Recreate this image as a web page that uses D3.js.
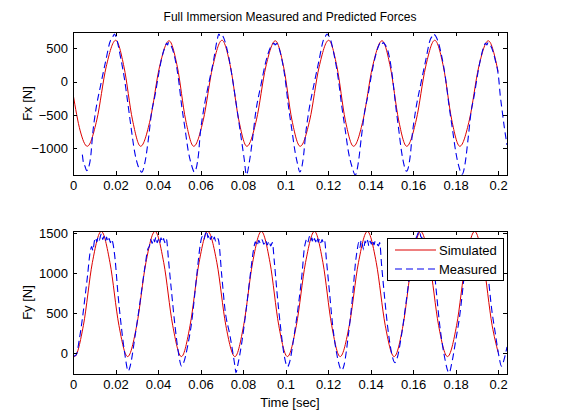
<!DOCTYPE html>
<html>
<head>
<meta charset="utf-8">
<script src="https://d3js.org/d3.v7.min.js"></script>
<style>
  body { margin: 0; background: #fff; }
  svg { display: block; }
  text { font-family: "Liberation Sans", Arial, sans-serif; fill: #000; }
</style>
</head>
<body>
<svg id="chart"></svg>
<script>
// values, [time in sec, force in N]
const fxSimulated = [
  [0,-180],[0.0034,-740],[0.0067,-970],
  [0.0112,-575],[0.0156,220],[0.0201,620],[0.0240,220],[0.0280,-575],[0.0318,-970],
  [0.0363,-575],[0.0407,220],[0.0452,612],[0.0491,220],[0.0530,-575],[0.0568,-970],
  [0.0613,-575],[0.0657,220],[0.0701,620],[0.0741,220],[0.0780,-575],[0.0818,-970],
  [0.0863,-575],[0.0907,220],[0.0952,612],[0.0991,220],[0.1030,-575],[0.1069,-970],
  [0.1114,-575],[0.1158,220],[0.1203,620],[0.1242,220],[0.1281,-575],[0.1320,-970],
  [0.1365,-575],[0.1409,220],[0.1454,612],[0.1493,220],[0.1532,-575],[0.1570,-970],
  [0.1615,-575],[0.1659,220],[0.1702,620],[0.1743,220],[0.1782,-575],[0.1820,-970],
  [0.1865,-575],[0.1909,220],[0.1954,612],[0.2000,150]
];

const fxMeasured = [
  [0.0044,-1095],[0.0050,-1230],[0.0056,-1265],[0.0064,-1335],[0.0072,-1300],
  [0.0084,-1105],[0.0092,-805],[0.0106,-455],[0.0130,-55],[0.0153,295],[0.0177,620],[0.0185,650],[0.0190,690],[0.0195,715],[0.0200,690],
  [0.0225,345],[0.0242,45],[0.0257,-300],[0.0274,-705],[0.0290,-1055],[0.0305,-1255],[0.0316,-1330],[0.0323,-1360],
  [0.0339,-1205],[0.0355,-855],[0.0370,-455],[0.0386,-205],[0.0402,95],[0.0417,345],[0.0433,520],[0.0441,575],[0.0445,550],[0.0449,585],[0.0455,570],
  [0.0480,345],[0.0496,45],[0.0511,-355],[0.0527,-705],[0.0543,-1055],[0.0558,-1255],[0.0571,-1355],
  [0.0590,-1105],[0.0598,-805],[0.0613,-455],[0.0637,-55],[0.0660,295],[0.0680,650],[0.0686,715],[0.0692,690],[0.0697,705],
  [0.0731,395],[0.0755,-55],[0.0778,-555],[0.0794,-905],[0.0805,-1150],[0.0816,-1400],
  [0.0830,-1200],[0.0843,-905],[0.0860,-455],[0.0884,-55],[0.0907,295],[0.0930,520],[0.0940,560],[0.0946,575],[0.0951,550],[0.0957,570],
  [0.0982,345],[0.0998,45],[0.1013,-355],[0.1029,-705],[0.1045,-1055],[0.1058,-1255],[0.1067,-1355],
  [0.1085,-1105],[0.1094,-805],[0.1109,-455],[0.1133,-55],[0.1156,295],[0.1180,640],[0.1188,680],[0.1195,715],[0.1200,700],[0.1205,680],
  [0.1232,345],[0.1248,45],[0.1264,-355],[0.1280,-705],[0.1296,-1055],[0.1313,-1280],[0.1328,-1400],
  [0.1343,-1205],[0.1356,-855],[0.1372,-455],[0.1388,-205],[0.1404,95],[0.1420,345],[0.1436,520],[0.1446,575],[0.1452,550],[0.1459,585],[0.1465,570],
  [0.1490,345],[0.1504,45],[0.1518,-355],[0.1532,-705],[0.1546,-1055],[0.1558,-1255],[0.1569,-1345],
  [0.1587,-1105],[0.1596,-805],[0.1611,-455],[0.1635,-55],[0.1658,295],[0.1682,640],[0.1690,680],[0.1697,715],[0.1702,700],[0.1707,680],
  [0.1737,345],[0.1753,45],[0.1769,-355],[0.1785,-705],[0.1801,-1055],[0.1816,-1280],[0.1831,-1390],
  [0.1846,-1205],[0.1859,-855],[0.1873,-455],[0.1888,-205],[0.1903,95],[0.1918,345],[0.1932,520],[0.1941,575],[0.1947,550],[0.1953,585],[0.1959,570],
  [0.1985,345],[0.2003,45],[0.2010,-200],[0.2019,-430],[0.2030,-700],[0.2042,-950]
];

const fySimulated = [
  [0,-25],[0.0007,-40],[0.0049,350],[0.0091,1130],[0.0133,1520],[0.0174,1130],[0.0216,350],[0.0257,-40],
  [0.0300,350],[0.0343,1130],[0.0386,1520],[0.0427,1130],[0.0469,350],[0.0510,-40],
  [0.0551,350],[0.0593,1130],[0.0634,1520],[0.0677,1130],[0.0719,350],[0.0762,-40],
  [0.0803,350],[0.0845,1130],[0.0886,1520],[0.0927,1130],[0.0968,350],[0.1009,-40],
  [0.1051,350],[0.1094,1130],[0.1136,1520],[0.1176,1130],[0.1217,350],[0.1257,-40],
  [0.1300,350],[0.1343,1130],[0.1385,1520],[0.1427,1130],[0.1469,350],[0.1511,-40],
  [0.1553,350],[0.1594,1130],[0.1636,1520],[0.1678,1130],[0.1720,350],[0.1762,-40],
  [0.1805,350],[0.1847,1130],[0.1890,1520],[0.1931,1130],[0.1972,350],[0.2000,15]
];

const fyMeasured = [
  [0,-40],[0.0015,-20],[0.0030,180],[0.0045,450],[0.0056,690],[0.0068,960],[0.0080,1250],[0.0088,1330],[0.0094,1280],
  [0.0100,1390],[0.0106,1440],[0.0112,1390],[0.0118,1450],[0.0124,1410],[0.0130,1470],[0.0134,1490],[0.0140,1420],
  [0.0146,1460],[0.0152,1400],[0.0158,1450],[0.0164,1390],[0.0170,1430],[0.0176,1380],[0.0182,1420],[0.0188,1370],
  [0.0198,1175],[0.0211,757],[0.0227,341],[0.0243,8],[0.0260,-220],
  [0.0268,-170],[0.0292,216],[0.0315,633],[0.0339,1090],[0.0352,1300],[0.0360,1340],[0.0366,1420],[0.0372,1370],
  [0.0378,1430],[0.0384,1390],[0.0390,1450],[0.0396,1380],[0.0402,1420],[0.0408,1370],[0.0414,1440],[0.0420,1390],
  [0.0426,1430],[0.0432,1380],[0.0438,1430],[0.0441,1410],
  [0.0449,1175],[0.0464,757],[0.0480,341],[0.0496,8],[0.0511,-160],
  [0.0520,-120],[0.0540,100],[0.0558,383],[0.0582,966],[0.0598,1340],[0.0604,1430],[0.0610,1460],[0.0616,1420],
  [0.0622,1480],[0.0629,1525],[0.0635,1440],[0.0641,1480],[0.0647,1420],[0.0653,1460],[0.0659,1410],[0.0665,1450],
  [0.0671,1400],[0.0677,1440],[0.0684,1420],
  [0.0700,966],[0.0715,550],[0.0739,216],[0.0755,-40],[0.0762,-160],[0.0767,-242],
  [0.0775,-150],[0.0795,150],[0.0815,550],[0.0835,1000],[0.0850,1300],[0.0858,1390],[0.0866,1340],[0.0874,1410],
  [0.0882,1370],[0.0890,1415],[0.0898,1360],[0.0906,1410],[0.0914,1350],[0.0922,1400],[0.0930,1340],[0.0938,1380],
  [0.0947,1150],[0.0960,757],[0.0976,341],[0.0992,0],[0.1010,-165],
  [0.1018,-120],[0.1040,216],[0.1062,633],[0.1078,1000],[0.1088,1300],[0.1094,1383],[0.1100,1430],[0.1106,1390],
  [0.1112,1455],[0.1118,1400],[0.1124,1440],[0.1130,1380],[0.1136,1430],[0.1142,1390],[0.1148,1445],[0.1154,1385],
  [0.1160,1430],[0.1166,1380],[0.1172,1420],[0.1178,1375],[0.1184,1400],
  [0.1192,1175],[0.1207,757],[0.1222,341],[0.1240,8],[0.1265,-210],
  [0.1275,-150],[0.1295,216],[0.1315,700],[0.1330,1150],[0.1338,1300],[0.1344,1380],[0.1350,1320],[0.1356,1410],
  [0.1362,1350],[0.1368,1290],[0.1374,1400],[0.1380,1360],[0.1386,1410],[0.1392,1340],[0.1398,1400],[0.1404,1360],
  [0.1410,1410],[0.1416,1350],[0.1422,1400],[0.1430,1370],[0.1437,1340],[0.1443,1380],
  [0.1452,1100],[0.1466,700],[0.1480,341],[0.1497,30],[0.1515,-115],
  [0.1525,-60],[0.1545,216],[0.1567,633],[0.1590,1090],[0.1605,1340],[0.1612,1420],[0.1618,1460],[0.1624,1500],
  [0.1630,1525],[0.1636,1460],[0.1642,1440],[0.1650,1420],[0.1658,1440],[0.1666,1400],[0.1674,1420],[0.1685,1390],
  [0.1695,1175],[0.1710,757],[0.1726,341],[0.1745,0],[0.1770,-242],
  [0.1780,-150],[0.1800,150],[0.1820,480],[0.1840,950],[0.1855,1300],[0.1862,1380],[0.1870,1420],[0.1878,1390],
  [0.1886,1430],[0.1894,1400],[0.1902,1420],[0.1910,1380],[0.1918,1410],[0.1926,1390],[0.1935,1380],
  [0.1943,1175],[0.1953,966],[0.1970,550],[0.1987,250],[0.2003,-20],[0.2016,-160],[0.2030,-60],[0.2042,80]
];

const timeTicks = [0, 0.02, 0.04, 0.06, 0.08, 0.1, 0.12, 0.14, 0.16, 0.18, 0.2];
const fxTicks = [-1000, -500, 0, 500];
const fyTicks = [0, 500, 1000, 1500];
const timeLimits = [0, 0.2042];
const fxLimits = [-1401, 744];
const fyLimits = [-257, 1525];
const seriesNames = ['Simulated', 'Measured'];

const chartTitle = 'Full Immersion Measured and Predicted Forces';
const xLabel = 'Time [sec]';
const fxLabel = 'Fx [N]';
const fyLabel = 'Fy [N]';

const width = 561, height = 420;
const left = 73, right = 507;
const color = { sim: '#dd0000', meas: '#0000ee' };
const dash = '7,4';

const svg = d3.select('#chart').attr('width', width).attr('height', height);
svg.append('rect').attr('width', width).attr('height', height).attr('fill', '#fff');

const x = d3.scaleLinear().domain(timeLimits).range([left, right]);

function panel(id, top, bottom, limits, ticks, label, sim, meas) {
  const y = d3.scaleLinear().domain(limits).range([bottom, top]);
  const g = svg.append('g');

  g.append('clipPath').attr('id', id)
    .append('rect').attr('x', left).attr('y', top).attr('width', right - left).attr('height', bottom - top);

  const line = d3.line().x(d => x(d[0])).y(d => y(d[1])).curve(d3.curveMonotoneX);
  const lines = g.append('g').attr('clip-path', `url(#${id})`);
  lines.append('path').datum(sim)
      .attr('d', line).attr('fill', 'none').attr('stroke', color.sim)
      .attr('stroke-width', 1);
  lines.append('path').datum(meas)
      .attr('d', line).attr('fill', 'none').attr('stroke', color.meas)
      .attr('stroke-width', 1.1).attr('stroke-dasharray', dash);

  // ticks point inward on all four sides, like the matlab box
  const fmt = d3.format('');
  const axB = g.append('g').attr('transform', `translate(0,${bottom})`)
      .call(d3.axisBottom(x).tickValues(timeTicks).tickSizeInner(-4).tickSizeOuter(0).tickPadding(6).tickFormat(fmt));
  const axT = g.append('g').attr('transform', `translate(0,${top})`)
      .call(d3.axisTop(x).tickValues(timeTicks).tickSizeInner(-4).tickSizeOuter(0).tickFormat(''));
  const axL = g.append('g').attr('transform', `translate(${left},0)`)
      .call(d3.axisLeft(y).tickValues(ticks).tickSizeInner(-4).tickSizeOuter(0).tickPadding(5).tickFormat(fmt));
  const axR = g.append('g').attr('transform', `translate(${right},0)`)
      .call(d3.axisRight(y).tickValues(ticks).tickSizeInner(-4).tickSizeOuter(0).tickFormat(''));

  [axB, axT, axL, axR].forEach(a => {
    a.select('.domain').remove();
    a.selectAll('line').attr('stroke', '#000').attr('shape-rendering', 'crispEdges');
    a.selectAll('text').attr('font-size', 13).attr('font-family', '"Liberation Sans", Arial, sans-serif').attr('fill', '#000');
  });

  g.append('rect').attr('x', left).attr('y', top).attr('width', right - left).attr('height', bottom - top)
      .attr('fill', 'none').attr('stroke', '#000').attr('shape-rendering', 'crispEdges');

  g.append('text')
      .attr('transform', `translate(27,${(top + bottom) / 2}) rotate(-90)`)
      .attr('text-anchor', 'middle').attr('dominant-baseline', 'central')
      .attr('font-size', 13).text(label);

  return y;
}

panel('clipTop', 32, 175, fxLimits, fxTicks, fxLabel, fxSimulated, fxMeasured);
panel('clipBottom', 231, 374, fyLimits, fyTicks, fyLabel, fySimulated, fyMeasured);

svg.append('text').attr('x', (left + right) / 2).attr('y', 21)
    .attr('text-anchor', 'middle').attr('font-size', 12).text(chartTitle);

svg.append('text').attr('x', (left + right) / 2).attr('y', 407)
    .attr('text-anchor', 'middle').attr('font-size', 13).text(xLabel);

// legend
const legend = svg.append('g').attr('transform', 'translate(387,238)');
legend.append('rect').attr('width', 116).attr('height', 42)
    .attr('fill', '#fff').attr('stroke', '#000').attr('shape-rendering', 'crispEdges');
const legendRows = legend.selectAll('g.row').data(seriesNames).enter()
    .append('g').attr('class', 'row')
    .attr('transform', (d, i) => `translate(0,${12 + i * 19})`);
legendRows.append('line').attr('x1', 8).attr('x2', 49).attr('y1', 0).attr('y2', 0)
    .attr('stroke', (d, i) => i === 0 ? color.sim : color.meas)
    .attr('stroke-width', (d, i) => i === 0 ? 1 : 1.1)
    .attr('stroke-dasharray', (d, i) => i === 0 ? null : dash);
legendRows.append('text').attr('x', 52).attr('y', 0).attr('dominant-baseline', 'central')
    .attr('font-size', 13).text(d => d);
</script>
</body>
</html>
